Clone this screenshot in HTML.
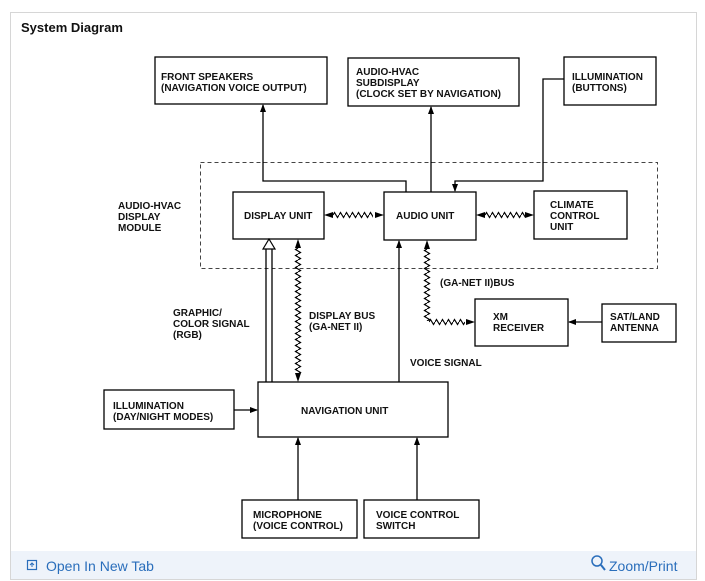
<!DOCTYPE html>
<html><head><meta charset="utf-8"><style>
body{margin:0;background:#fff;width:705px;height:581px;overflow:hidden;font-family:"Liberation Sans",sans-serif}
</style></head><body>
<svg width="705" height="581" viewBox="0 0 705 581" xmlns="http://www.w3.org/2000/svg" style="position:absolute;left:0;top:0">
<defs>
<marker id="a" markerWidth="8" markerHeight="8" refX="7" refY="4" orient="auto" markerUnits="userSpaceOnUse"><path d="M0,1 L8,4 L0,7 z" fill="#000"/></marker>
<pattern id="zh" width="6" height="8" patternUnits="userSpaceOnUse"><path d="M0,4 L1.5,1.5 L4.5,6.5 L6,4" fill="none" stroke="#000" stroke-width="1.2"/></pattern>
<pattern id="zv" width="8" height="6" patternUnits="userSpaceOnUse"><path d="M4,0 L1.5,1.5 L6.5,4.5 L4,6" fill="none" stroke="#000" stroke-width="1.2"/></pattern>
</defs>
<rect x="10.5" y="12.5" width="686" height="567" fill="#fff" stroke="#d6d6d6"/>
<rect x="11" y="551" width="685" height="28" fill="#eef3fa"/>
<text x="21" y="32" font-size="13" font-weight="bold" fill="#111">System Diagram</text>
<g fill="none" stroke="#000" stroke-width="1.3">
<rect x="155" y="57" width="172" height="47"/>
<rect x="348" y="58" width="171" height="48"/>
<rect x="564" y="57" width="92" height="48"/>
<rect x="233" y="192" width="91" height="47"/>
<rect x="384" y="192" width="92" height="48"/>
<rect x="534" y="191" width="93" height="48"/>
<rect x="475" y="299" width="93" height="47"/>
<rect x="602" y="304" width="74" height="38"/>
<rect x="258" y="382" width="190" height="55"/>
<rect x="104" y="390" width="130" height="39"/>
<rect x="242" y="500" width="115" height="38"/>
<rect x="364" y="500" width="115" height="38"/>
</g>
<rect x="200.5" y="162.5" width="457" height="106" fill="none" stroke="#444" stroke-width="1" stroke-dasharray="4,3"/>
<g fill="none" stroke="#000" stroke-width="1.3">
<polyline points="406,192 406,181 263,181 263,105" marker-end="url(#a)"/>
<line x1="431" y1="192" x2="431" y2="107" marker-end="url(#a)"/>
<polyline points="564,79 543,79 543,181 455,181 455,191" marker-end="url(#a)"/>
<line x1="399" y1="382" x2="399" y2="241" marker-end="url(#a)"/>
<line x1="602" y1="322" x2="569" y2="322" marker-end="url(#a)"/>
<line x1="234" y1="410" x2="257" y2="410" marker-end="url(#a)"/>
<line x1="298" y1="500" x2="298" y2="438" marker-end="url(#a)"/>
<line x1="417" y1="500" x2="417" y2="438" marker-end="url(#a)"/>
<line x1="266" y1="382" x2="266" y2="249"/>
<line x1="272" y1="382" x2="272" y2="249"/>
</g>
<path d="M263,249 L269,239 L275,249 z" fill="#fff" stroke="#000" stroke-width="1.2"/>
<g transform="translate(333,211)"><rect width="40" height="8" fill="url(#zh)"/></g>
<path d="M324,215 L333,212 L333,218 z M384,215 L375,212 L375,218 z" fill="#000"/>
<g transform="translate(485,211)"><rect width="40" height="8" fill="url(#zh)"/></g>
<path d="M476,215 L485,212 L485,218 z M534,215 L525,212 L525,218 z" fill="#000"/>
<g transform="translate(294,248)"><rect width="8" height="126" fill="url(#zv)"/></g>
<path d="M298,239 L295,248 L301,248 z M298,382 L295,373 L301,373 z" fill="#000"/>
<g transform="translate(423,249)"><rect width="8" height="72" fill="url(#zv)"/></g>
<path d="M427,240 L424,249 L430,249 z" fill="#000"/>
<g transform="translate(429,318)"><rect width="36" height="8" fill="url(#zh)"/></g>
<path d="M475,322 L466,319 L466,325 z" fill="#000"/>
<g font-size="10" font-weight="bold" fill="#111">
<text x="161" y="80">FRONT SPEAKERS</text><text x="161" y="91">(NAVIGATION VOICE OUTPUT)</text>
<text x="356" y="75">AUDIO-HVAC</text><text x="356" y="86">SUBDISPLAY</text><text x="356" y="97">(CLOCK SET BY NAVIGATION)</text>
<text x="572" y="80">ILLUMINATION</text><text x="572" y="91">(BUTTONS)</text>
<text x="118" y="209">AUDIO-HVAC</text><text x="118" y="220">DISPLAY</text><text x="118" y="231">MODULE</text>
<text x="244" y="219">DISPLAY UNIT</text>
<text x="396" y="219">AUDIO UNIT</text>
<text x="550" y="208">CLIMATE</text><text x="550" y="219">CONTROL</text><text x="550" y="230">UNIT</text>
<text x="440" y="286">(GA-NET II)BUS</text>
<text x="493" y="320">XM</text><text x="493" y="331">RECEIVER</text>
<text x="610" y="320">SAT/LAND</text><text x="610" y="331">ANTENNA</text>
<text x="173" y="316">GRAPHIC/</text><text x="173" y="327">COLOR SIGNAL</text><text x="173" y="338">(RGB)</text>
<text x="309" y="319">DISPLAY BUS</text><text x="309" y="330">(GA-NET II)</text>
<text x="410" y="366">VOICE SIGNAL</text>
<text x="301" y="414">NAVIGATION UNIT</text>
<text x="113" y="409">ILLUMINATION</text><text x="113" y="420">(DAY/NIGHT MODES)</text>
<text x="253" y="518">MICROPHONE</text><text x="253" y="529">(VOICE CONTROL)</text>
<text x="376" y="518">VOICE CONTROL</text><text x="376" y="529">SWITCH</text>
</g>
<rect x="27.5" y="560.5" width="9" height="9" fill="none" stroke="#2a6ebb" stroke-width="1.2"/>
<path d="M32,567 L32,563 M30,565 L32,563 L34,565" stroke="#2a6ebb" fill="none"/>
<text x="46" y="571" font-size="14" fill="#2a6ebb">Open In New Tab</text>
<circle cx="597" cy="561" r="5" fill="none" stroke="#2a6ebb" stroke-width="1.5"/>
<line x1="601" y1="565" x2="605" y2="570" stroke="#2a6ebb" stroke-width="2"/>
<text x="609" y="571" font-size="14" fill="#2a6ebb">Zoom/Print</text>
</svg>
</body></html>
